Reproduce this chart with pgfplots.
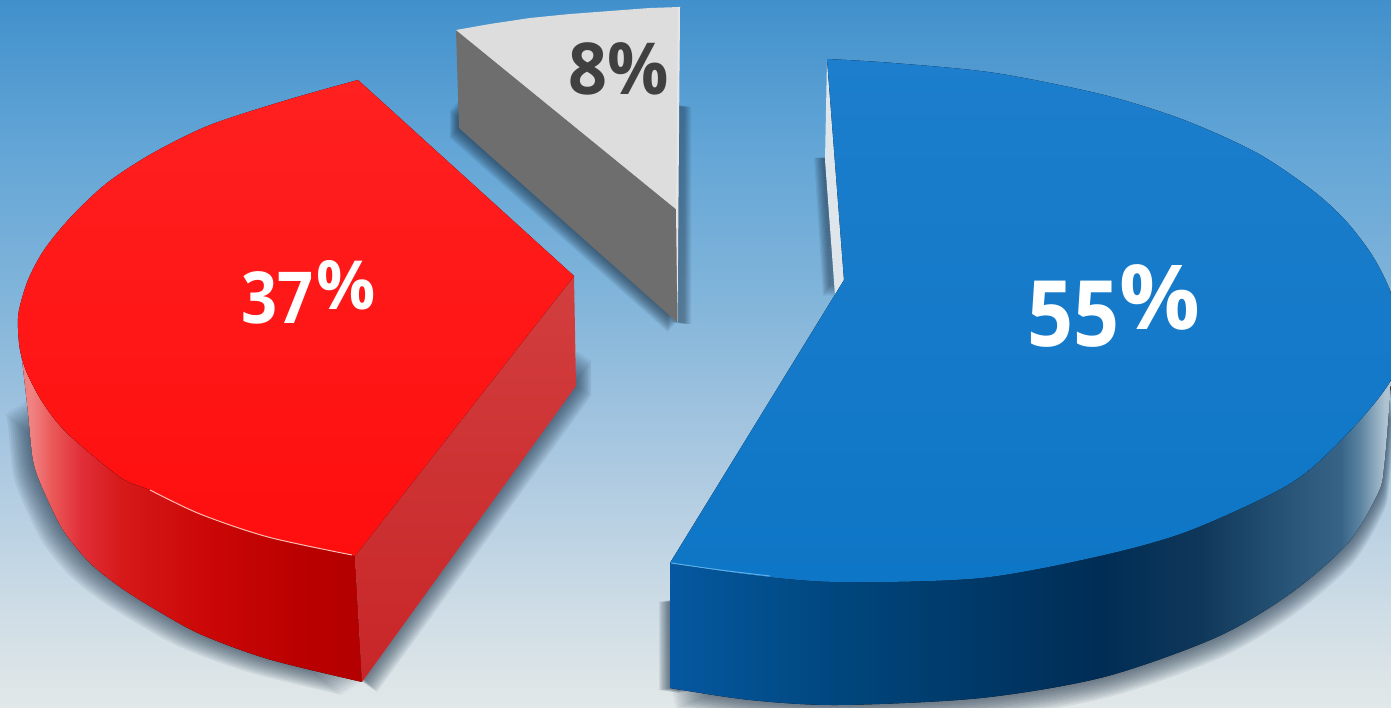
\documentclass[border=0pt]{standalone}
\usepackage{fontspec}
\setmainfont{Open Sans}
\usepackage{pgfplots}
\usepgfplotslibrary{fillbetween}
\pgfplotsset{compat=1.18}
\pgfplotsset{layers/mine/.define layer set={bgl,pre main,fronts,mid,tops,main}{}}
\pgfdeclareverticalshading{bgsh}{100bp}{rgb(0bp)=(.886,.91,.91);rgb(25bp)=(.886,.91,.91);rgb(32.6bp)=(.80,.86,.90);rgb(43.2bp)=(.66,.78,.88);rgb(53.8bp)=(.51,.71,.855);rgb(64.4bp)=(.39,.65,.84);rgb(75bp)=(.255,.565,.80);rgb(100bp)=(.255,.565,.80)}
\pgfdeclarehorizontalshading{redfront}{100bp}{rgb(0bp)=(.94,.51,.51);rgb(26.7bp)=(.94,.51,.51);rgb(29.6bp)=(.92,.35,.35);rgb(34bp)=(.88,.18,.22);rgb(39.8bp)=(.84,.10,.10);rgb(51.5bp)=(.80,.03,.03);rgb(66bp)=(.73,0,0);rgb(75bp)=(.70,0,0);rgb(100bp)=(.70,0,0)}
\pgfdeclarehorizontalshading{bluefront}{100bp}{rgb(0bp)=(.02,.345,.63);rgb(25bp)=(.02,.345,.63);rgb(36.8bp)=(0,.275,.49);rgb(54.8bp)=(0,.176,.333);rgb(61.8bp)=(.06,.216,.353);rgb(68bp)=(.157,.333,.47);rgb(71.5bp)=(.216,.39,.53);rgb(72.8bp)=(.353,.51,.627);rgb(74.6bp)=(.686,.765,.824);rgb(100bp)=(.686,.765,.824)}
\definecolor{shadowc}{RGB}{30,50,70}
\begin{document}
\begin{tikzpicture}
\begin{axis}[
  set layers=mine,
  width=1391bp,height=708bp,scale only axis,
  xmin=0,xmax=1391,ymin=0,ymax=708,y dir=reverse,
  hide axis,clip=true,
]
% background
\addplot[on layer=bgl,draw=none,shade,shading=bgsh] coordinates {(0,0)(1391,0)(1391,708)(0,708)(0,0)};
% soft shadows: stacked, shifted layers
\pgfplotsinvokeforeach{1,...,10}{
\addplot[on layer=bgl,draw=none,fill=shadowc,fill opacity=0.08,smooth,xshift=-2*#1 bp,yshift=-1.3*#1 bp] coordinates {
 (26,400)(28,413)(33,460)(42,487)(63,530)(90,563)(120,587)(153,608)(200,634)(268,659)(362,682)};
\addplot[on layer=bgl,draw=none,fill=shadowc,fill opacity=0.08,xshift=1.5*#1 bp,yshift=-1*#1 bp] coordinates {
 (576,350)(576,386)(362,682)(340,660)(576,350)};
\addplot[on layer=bgl,draw=none,fill=shadowc,fill opacity=0.08,smooth,xshift=0.5*#1 bp,yshift=-2*#1 bp] coordinates {
 (1390,397)(1384,467)(1378,493)(1348,543)(1291,593)(1217,637)(1104,677)(981,698)(839,705)(750,700)(670,688)};
\addplot[on layer=bgl,draw=none,fill=shadowc,fill opacity=0.08,xshift=-1.1*#1 bp,yshift=-0.2*#1 bp] coordinates {
 (670,600)(670,688)(690,691)(690,600)(670,600)};
\addplot[on layer=bgl,draw=none,fill=shadowc,fill opacity=0.09,xshift=1.3*#1 bp,yshift=-0.2*#1 bp] coordinates {
 (678,105)(678,322)(670,322)(670,105)(678,105)};
\addplot[on layer=bgl,draw=none,fill=shadowc,fill opacity=0.09,xshift=-0.9*#1 bp,yshift=-1*#1 bp] coordinates {
 (459,100)(459,128)(677,322)(677,300)(459,100)};
\addplot[on layer=bgl,draw=none,fill=shadowc,fill opacity=0.09,xshift=-1.2*#1 bp] coordinates {
 (826,158)(835,296)(842,285)(836,158)(826,158)};
}
\addplot[on layer=bgl,draw=none,fill={rgb,255:red,222;green,230;blue,236}] coordinates {(827,60)(825,160)(835,295)(846,280)(827,60)};
% red slice
\addplot[draw=none,name path=rlow,smooth] coordinates {(20,350)(27,373)(43,403)(67,433)(120,477)(150,490)(200,514)(268,537)(355,556)};
\addplot[draw=none,name path=rbot,smooth] coordinates {(20,350)(22,360)(28,413)(33,460)(42,487)(63,530)(90,563)(120,587)(153,608)(200,634)(268,659)(362,682)};
\addplot[draw=none,shade,shading=redfront] fill between[of=rlow and rbot,on layer=fronts];
\addplot[on layer=mid,draw=none,shade,top color={rgb,255:red,210;green,62;blue,62},bottom color={rgb,255:red,200;green,38;blue,40}] coordinates {
 (574,276)(576,386)(362,682)(355,556)(574,276)};
\addplot[draw=none,name path=rtop,smooth] coordinates {(358,80)(287,100)(210,125)(153,153)(107,183)(70,218)(44,250)(28,280)(19,310)(18,328)(20,350)(27,373)(43,403)(67,433)(120,477)(150,490)(200,514)(268,537)(355,556)};
\addplot[draw=none,name path=rapex] coordinates {(358,80)(574,276)(355,556)};
\addplot[draw=none,shade,top color={rgb,255:red,255;green,32;blue,32},bottom color={rgb,255:red,255;green,14;blue,14}] fill between[of=rtop and rapex,on layer=tops];
\addplot[smooth,draw={rgb,255:red,255;green,190;blue,180},line width=1pt] coordinates {(150,490)(200,514)(268,537)(352,555)};
% grey slice
\addplot[draw=none,fill={rgb,255:red,110;green,110;blue,110}] coordinates {(456,30)(459,128)(677,322)(677,210)(456,30)};
\addplot[draw=none,fill={rgb,255:red,221;green,221;blue,221}] coordinates {
 (456,30)(490,24)(530,18)(570,14)(610,11)(650,8)(680,7)(677,210)(456,30)};
\addplot[draw=none,fill={rgb,255:red,230;green,230;blue,230}] coordinates {(680,7)(677.5,322)(676,210)(678,7)(680,7)};
% blue slice
\addplot[draw=none,name path=blow,smooth] coordinates {(1391,380)(1348,433)(1291,483)(1191,530)(1104,555)(981,578)(839,582)(750,575)(670,563)};
\addplot[draw=none,name path=bbot,smooth] coordinates {(1391,380)(1390,397)(1384,467)(1378,493)(1348,543)(1291,593)(1217,637)(1104,677)(981,698)(839,705)(750,700)(670,688)};
\addplot[draw=none,shade,shading=bluefront] fill between[of=blow and bbot,on layer=fronts];
\addplot[draw=none,name path=btop,smooth] coordinates {(827,59)(893,63)(995,73)(1104,95)(1184,120)(1257,153)(1312,190)(1345,220)(1372,255)(1391,293)(1400,335)(1391,380)(1348,433)(1291,483)(1191,530)(1104,555)(981,578)(839,582)(750,575)(670,563)};
\addplot[draw=none,name path=bapex] coordinates {(827,59)(844,280)(670,563)};
\addplot[draw=none,shade,top color={rgb,255:red,28;green,126;blue,204},bottom color={rgb,255:red,14;green,118;blue,198}] fill between[of=btop and bapex,on layer=tops];
\addplot[smooth,draw={rgb,255:red,90;green,175;blue,235},line width=1pt] coordinates {(671,563)(720,570)(770,576)};
% labels
\node[white,font=\bfseries\fontsize{72}{72}\selectfont,anchor=base west,xscale=.88] at (axis cs:238,324) {37};
\node[white,font=\bfseries\fontsize{68}{68}\selectfont,anchor=base west,xscale=.97] at (axis cs:313,310) {\%};
\node[white,font=\bfseries\fontsize{92}{92}\selectfont,anchor=base west,xscale=.88] at (axis cs:1024,347) {55};
\node[white,font=\bfseries\fontsize{90}{90}\selectfont,anchor=base west,xscale=1] at (axis cs:1116,330) {\%};
\node[text={rgb,255:red,64;green,64;blue,64},font=\bfseries\fontsize{72}{72}\selectfont,anchor=base west,xscale=.95] at (axis cs:565,95) {8\%};
\end{axis}
\end{tikzpicture}
\end{document}
